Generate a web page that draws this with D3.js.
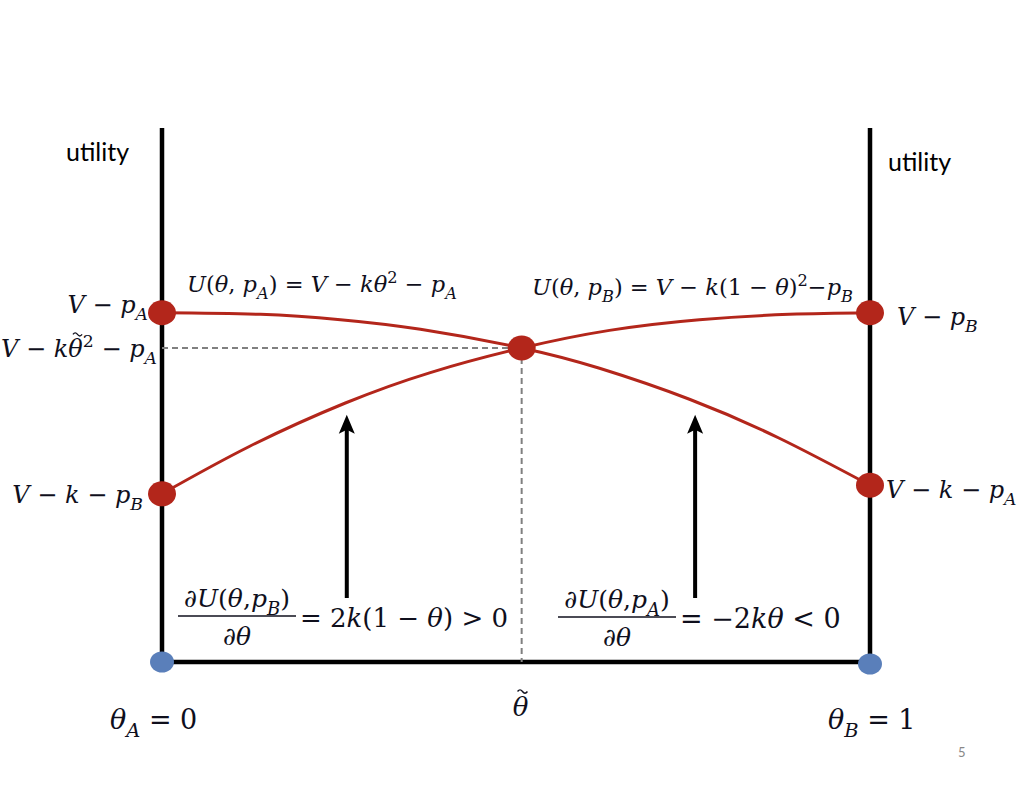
<!DOCTYPE html>
<html><head><meta charset="utf-8">
<script src="https://cdn.jsdelivr.net/npm/d3@7"></script>
<style>html,body{margin:0;padding:0;background:#fff;}svg{display:block;}</style>
</head><body><svg id="c" width="1022" height="788"></svg>
<script>
// ---- data ----
const thetaA = [0, 0.139, 0.252, 0.365, 0.508, 0.618, 0.745, 0.872, 1];
const utilA  = [65.4, 65.1, 64.1, 62.3, 58.8, 55.0, 49.2, 41.9, 33.1];
const thetaB = [0, 0.124, 0.259, 0.379, 0.508, 0.632, 0.759, 0.886, 1];
const utilB  = [31.5, 40.4, 48.5, 54.2, 58.8, 62.1, 64.1, 65.1, 65.4];
const redTheta = [0, 0, 0.508, 1, 1];
const redUtil  = [65.4, 31.5, 58.8, 65.4, 33.1];
const blueTheta = [0, 1];
const blueUtil  = [0, 0];
const tildeTheta = 0.508, tildeUtil = 58.8;
const arrowTheta = [0.261, 0.753];
const arrowFrom = 12, arrowTo = 46.3;
const axisLabel = "utility";
const pageNo = "5";

const svg = d3.select("#c");
const x = d3.scaleLinear().domain([0, 1]).range([162, 870]);
const y = d3.scaleLinear().domain([0, 100]).range([662, 128]);

const RED = "#b3261b", BLUE = "#5a7fba", INK = "#0f0f1c";
const MATH = "'DejaVu Serif', serif";
const SANS = "Lato, 'Open Sans', sans-serif";

// axes
const ax = svg.append("g").attr("stroke", "#000").attr("stroke-width", 4.5);
ax.append("line").attr("x1", x(0)).attr("x2", x(0)).attr("y1", y(0)).attr("y2", y(100));
ax.append("line").attr("x1", x(1)).attr("x2", x(1)).attr("y1", y(0)).attr("y2", y(100));
ax.append("line").attr("x1", x(0)).attr("x2", x(1)).attr("y1", y(0)).attr("y2", y(0));

// dashed guides
const dg = svg.append("g").attr("stroke", "#808080").attr("stroke-width", 2).attr("stroke-dasharray", "6,4");
dg.append("line").attr("x1", x(0)).attr("x2", x(tildeTheta)).attr("y1", y(tildeUtil)).attr("y2", y(tildeUtil));
dg.append("line").attr("x1", x(tildeTheta)).attr("x2", x(tildeTheta)).attr("y1", y(tildeUtil)).attr("y2", y(0));

// curves
const line = d3.line().x(d => x(d[0])).y(d => y(d[1])).curve(d3.curveNatural);
svg.append("path").attr("d", line(thetaA.map((t, i) => [t, utilA[i]])))
  .attr("fill", "none").attr("stroke", RED).attr("stroke-width", 3);
svg.append("path").attr("d", line(thetaB.map((t, i) => [t, utilB[i]])))
  .attr("fill", "none").attr("stroke", RED).attr("stroke-width", 3);

// arrows
arrowTheta.forEach(t => {
  svg.append("line").attr("x1", x(t)).attr("x2", x(t)).attr("y1", y(arrowFrom)).attr("y2", y(arrowTo) + 14)
    .attr("stroke", "#000").attr("stroke-width", 4);
  const tx = x(t), ty = y(arrowTo);
  svg.append("path").attr("d", `M${tx},${ty} L${tx - 8},${ty + 19} L${tx},${ty + 15} L${tx + 8},${ty + 19} Z`).attr("fill", "#000");
});

// dots
svg.selectAll(".rd").data(redTheta).enter().append("ellipse")
  .attr("cx", (d) => x(d)).attr("cy", (d, i) => y(redUtil[i])).attr("rx", 14).attr("ry", 12.5).attr("fill", RED);
svg.selectAll(".bd").data(blueTheta).enter().append("ellipse")
  .attr("cx", (d) => x(d)).attr("cy", (d, i) => y(blueUtil[i]) + (d ? 2 : 0)).attr("rx", 12).attr("ry", 10.5).attr("fill", BLUE);

// rich text helper: segs = [[text, style]], style: i italic, n normal, b sub, p sup, t tilde-theta
function rich(px, py, segs, fs, anchor) {
  const t = svg.append("text").attr("x", px).attr("y", py).attr("font-family", MATH)
    .attr("font-size", fs).attr("fill", INK).attr("text-anchor", anchor || "start");
  let cur = 0;
  const tildes = [];
  segs.forEach(([s, st]) => {
    if (st === "t") {
      tildes.push(t.append("tspan").attr("dy", -cur).attr("font-style", "italic").text("θ"));
      cur = 0;
      return;
    }
    const off = st.includes("b") ? fs * 0.3 : st.includes("p") ? -fs * 0.42 : 0;
    const size = (st.includes("b") || st.includes("p")) ? fs * 0.72 : fs;
    t.append("tspan").attr("dy", off - cur).attr("font-size", size)
      .attr("font-style", st.includes("i") ? "italic" : "normal").text(s);
    cur = off;
  });
  tildes.forEach(ts => {
    const bb = ts.node().getBBox();
    const cx = bb.x + bb.width / 2 + fs * 0.07;
    const cy = py - fs * 0.98;
    const w = fs * 0.38, a = fs * 0.065;
    svg.append("path")
      .attr("d", `M${cx - w / 2},${cy + a * 0.6} q${w / 4},${-2 * a} ${w / 2},0 t${w / 2},0`)
      .attr("fill", "none").attr("stroke", INK).attr("stroke-width", fs * 0.055);
  });
  return t;
}

// axis labels
svg.append("text").attr("x", 66).attr("y", 161).attr("font-family", SANS).attr("font-size", 25).attr("fill", "#000").text(axisLabel);
svg.append("text").attr("x", 888).attr("y", 171).attr("font-family", SANS).attr("font-size", 25).attr("fill", "#000").text(axisLabel);

// left side labels
rich(148, 313, [["V", "i"], [" − ", "n"], ["p", "i"], ["A", "ib"]], 24, "end");
rich(157, 357, [["V", "i"], [" − ", "n"], ["k", "i"], ["", "t"], ["2", "p"], [" − ", "n"], ["p", "i"], ["A", "ib"]], 24, "end");
rich(143, 503, [["V", "i"], [" − ", "n"], ["k", "i"], [" − ", "n"], ["p", "i"], ["B", "ib"]], 24, "end");
// right side labels
rich(897, 325, [["V", "i"], [" − ", "n"], ["p", "i"], ["B", "ib"]], 24, "start");
rich(886, 498, [["V", "i"], [" − ", "n"], ["k", "i"], [" − ", "n"], ["p", "i"], ["A", "ib"]], 24, "start");

// curve equations
rich(187, 292, [["U", "i"], ["(", "n"], ["θ", "i"], [", ", "n"], ["p", "i"], ["A", "ib"], [") = ", "n"], ["V", "i"], [" − ", "n"], ["kθ", "i"], ["2", "p"], [" − ", "n"], ["p", "i"], ["A", "ib"]], 22.5);
rich(532, 295, [["U", "i"], ["(", "n"], ["θ", "i"], [", ", "n"], ["p", "i"], ["B", "ib"], [") = ", "n"], ["V", "i"], [" − ", "n"], ["k", "i"], ["(1 − ", "n"], ["θ", "i"], [")", "n"], ["2", "p"], ["−", "n"], ["p", "i"], ["B", "ib"]], 22.5);

// derivative fractions
function frac(x1, x2, ly, numSegs, rhsSegs, rfs) {
  svg.append("line").attr("x1", x1).attr("x2", x2).attr("y1", ly).attr("y2", ly).attr("stroke", INK).attr("stroke-width", 1.6);
  rich((x1 + x2) / 2, ly - 9, numSegs, 25, "middle");
  rich((x1 + x2) / 2, ly + 29, [["∂θ", "i"]], 25, "middle");
  rich(x2 + 4, ly + 11, rhsSegs, rfs, "start");
}
frac(178, 296, 616, [["∂U", "i"], ["(", "n"], ["θ", "i"], [",", "n"], ["p", "i"], ["B", "ib"], [")", "n"]],
  [["= 2", "n"], ["k", "i"], ["(1 − ", "n"], ["θ", "i"], [") > 0", "n"]], 26);
frac(558, 676, 617, [["∂U", "i"], ["(", "n"], ["θ", "i"], [",", "n"], ["p", "i"], ["A", "ib"], [")", "n"]],
  [["= −2", "n"], ["kθ", "i"], [" < 0", "n"]], 27);

// theta labels
rich(110, 729, [["θ", "i"], ["A", "ib"], [" = 0", "n"]], 27);
rich(x(tildeTheta) - 9, 716, [["", "t"]], 26, "start");
rich(828, 729, [["θ", "i"], ["B", "ib"], [" = 1", "n"]], 27);

svg.append("text").attr("x", 958).attr("y", 757).attr("font-family", SANS).attr("font-size", 13).attr("fill", "#888").text(pageNo);
</script></body></html>
